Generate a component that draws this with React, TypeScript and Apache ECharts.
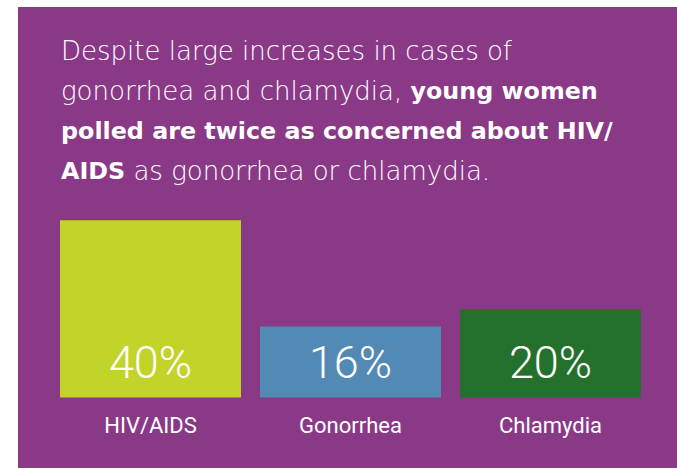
import React, { useEffect, useRef } from "react";
import * as echarts from "echarts";

const categories = ["HIV/AIDS", "Gonorrhea", "Chlamydia"];
const values = [40, 16, 20];
const barColors = ["#C2D32A", "#5289B5", "#23712C"];
const titleLines = [
  [{ t: "Despite large increases in cases of", b: false }],
  [
    { t: "gonorrhea and chlamydia, ", b: false },
    { t: "young women", b: true },
  ],
  [{ t: "polled are twice as concerned about HIV/", b: true }],
  [
    { t: "AIDS", b: true },
    { t: " as gonorrhea or chlamydia.", b: false },
  ],
];

export default function App() {
  const ref = useRef<HTMLDivElement>(null);
  useEffect(() => {
    if (!ref.current) return;
    const chart = echarts.init(ref.current, null, { renderer: "svg" });
    const text = titleLines
      .map((line) => line.map((s) => `{${s.b ? "b" : "n"}|${s.t}}`).join(""))
      .join("\n");
    chart.setOption({
      animation: false,
      backgroundColor: "#ffffff",
      graphic: [
        {
          type: "rect",
          silent: true,
          z: -10,
          shape: { x: 18, y: 7, width: 677 - 18, height: 468 - 7 },
          style: { fill: "#8A3987" },
        },
        {
          type: "text",
          x: 61,
          y: 31,
          style: {
            text,
            verticalAlign: "top",
            rich: {
              n: {
                fontFamily: "DejaVu Sans",
                fontWeight: 200,
                fontSize: 26,
                lineHeight: 40,
                fill: "#ffffff",
              },
              b: {
                fontFamily: "DejaVu Sans",
                fontWeight: 700,
                fontSize: 23.8,
                lineHeight: 40,
                fill: "#ffffff",
              },
            },
          },
        },
      ],
      grid: { left: 50.5, width: 600, top: 176, bottom: 70.5, containLabel: false },
      xAxis: {
        type: "category",
        data: categories,
        axisLine: { show: false },
        axisTick: { show: false },
        axisLabel: {
          color: "#ffffff",
          fontFamily: "Roboto",
          fontSize: 22,
          lineHeight: 24,
          margin: 16,
        },
      },
      yAxis: {
        type: "value",
        min: 0,
        max: 50,
        show: false,
        splitLine: { show: false },
      },
      series: [
        {
          type: "bar",
          barCategoryGap: "9.5%",
          data: values.map((v, i) => ({ value: v, itemStyle: { color: barColors[i] } })),
          label: {
            show: true,
            position: "insideBottom",
            distance: 35,
            verticalAlign: "middle",
            formatter: "{c}%",
            color: "#ffffff",
            fontFamily: "Roboto",
            fontWeight: 300,
            fontSize: 45,
          },
        },
      ],
    });
    return () => chart.dispose();
  }, []);
  return (
    <div
      ref={ref}
      style={{ position: "fixed", left: 0, top: 0, width: 677, height: 468 }}
    />
  );
}
